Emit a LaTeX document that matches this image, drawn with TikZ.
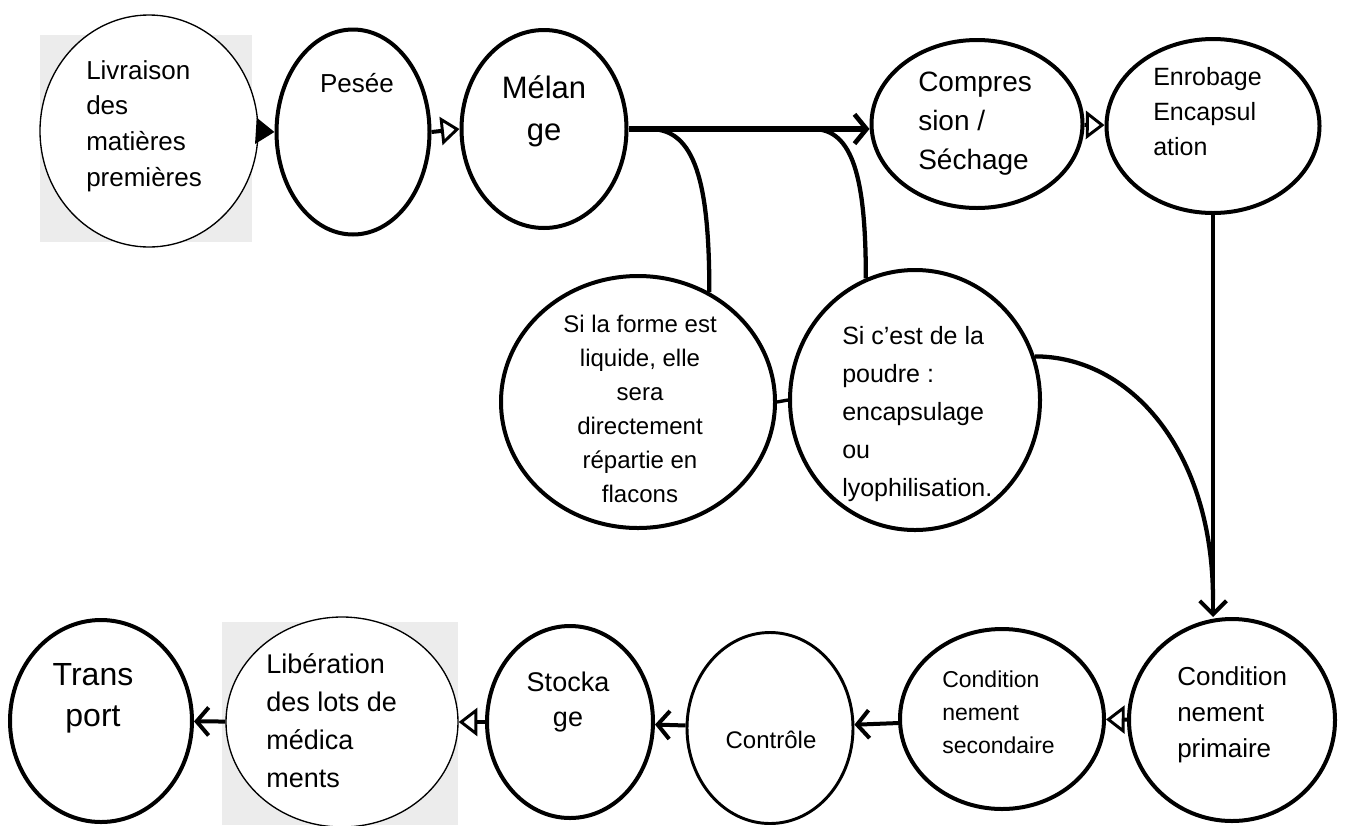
\documentclass[tikz,border=0pt]{standalone}
\usepackage{fontspec}
\setmainfont{Liberation Sans}
\usetikzlibrary{arrows.meta,shapes.geometric}
\definecolor{panel}{RGB}{236,236,236}
\begin{document}
\begin{tikzpicture}[x=0.75pt,y=-0.75pt,
  stage/.style={draw, ellipse, fill=white, line width=3pt, inner sep=0pt},
  thin stage/.style={stage, line width=1pt},
  txt/.style={inner sep=0pt, align=left},
  link/.style={line width=3pt},
  barb/.style={-{Straight Barb[length=9pt,width=21pt]}},
  opentip/.style={-{Triangle[open,length=14pt,width=21pt,line width=2.2pt]}},
]
\useasboundingbox (0,0) rectangle (1348,825);

% light panels behind two of the stages
\fill[panel] (40,35) rectangle (252,242);
\fill[panel] (222,622) rectangle (458,825);

% stages
\node[thin stage, minimum width=163.5pt, minimum height=174pt] (livr) at (149,131) {};
\node[stage, minimum width=114.75pt, minimum height=153.75pt] (pesee) at (353,132) {};
\node[stage, minimum width=123.75pt, minimum height=148.5pt] (melange) at (544,129) {};
\node[stage, minimum width=158.25pt, minimum height=126pt] (compr) at (977,124) {};
\node[stage, minimum width=159.75pt, minimum height=130.5pt] (enrob) at (1213,126) {};
\node[stage, minimum width=205.5pt, minimum height=189pt] (forme) at (638,402) {};
\node[stage, minimum width=187.5pt, minimum height=195pt] (poudre) at (915,400) {};
\node[stage, minimum width=154.5pt, minimum height=151.5pt] (condprim) at (1232,720) {};
\node[stage, minimum width=153pt, minimum height=135pt] (condsec) at (1002,719) {};
\node[stage, line width=2.2pt, minimum width=124.5pt, minimum height=143.25pt] (controle) at (770,728) {};
\node[stage, minimum width=124.5pt, minimum height=144pt] (stock) at (570,722) {};
\node[thin stage, minimum width=174pt, minimum height=157.5pt] (liber) at (342,722) {};
\node[stage, minimum width=136.5pt, minimum height=151.5pt] (transp) at (101,721) {};

% top row flow
\draw[link, -{Triangle[length=14pt,width=19pt]}] (livr.east) -- (pesee.west);
\draw[link, opentip] (pesee.east) -- (melange.west);
\draw[line width=4.5pt, -{Straight Barb[length=9pt,width=22pt,line width=3.5pt]}]
  (melange.east) -- (melange.east -| compr.west);
\draw[link, opentip] (compr) -- (enrob);

% branches towards the liquid / powder cases
\coordinate (b1) at (650,129);
\coordinate (b2) at (813,129);
\draw[line width=3.2pt] (b1) .. controls +(45,0) and +(0,-110) .. (forme.57);
\draw[line width=3.2pt] (b2) .. controls +(40,0) and +(0,-100) .. (poudre.112);
\draw[line width=2.5pt] (forme.east) -- (poudre.west);

% down to primary packaging
\coordinate (merge) at (1213,600);
\draw[line width=3.2pt] (poudre.20) .. controls +(95,0) and +(0,-150) .. (merge);
\draw[link, -{Straight Barb[length=10pt,width=20pt]}] (enrob.south) -- (enrob.south |- condprim.north);

% bottom row flow
\draw[link, opentip] (condprim) -- (condsec);
\draw[link, barb] (condsec) -- (controle);
\draw[link, barb] (controle) -- (stock);
\draw[link, opentip] (stock) -- (liber);
\draw[link, barb] (liber) -- (transp);

% labels
\node[txt, anchor=north west, font=\fontsize{19.5}{26.8}\selectfont] (livr-t) at (86,60) {Livraison\\des\\matières\\premières};
\node[txt, anchor=north, font=\fontsize{19.5}{24}\selectfont] (pesee-t) at (357,73) {Pesée};
\node[txt, anchor=north, align=center, font=\fontsize{23.25}{31.5}\selectfont] (melange-t) at (544,75) {Mélan\\ge};
\node[txt, anchor=north west, font=\fontsize{21}{29.25}\selectfont] (compr-t) at (918,72) {Compres\\sion /\\Séchage};
\node[txt, anchor=north west, font=\fontsize{18.75}{26.25}\selectfont] (enrob-t) at (1153,67) {Enrobage\\Encapsul\\ation};
\node[txt, anchor=north, align=center, font=\fontsize{18}{25.5}\selectfont] (forme-t) at (640,315) {Si la forme est\\liquide, elle\\sera\\directement\\répartie en\\flacons};
\node[txt, anchor=north west, font=\fontsize{18.75}{28.5}\selectfont] (poudre-t) at (842,326) {Si c’est de la\\poudre :\\encapsulage\\ou\\lyophilisation.};
\node[txt, anchor=north west, font=\fontsize{19.5}{27}\selectfont] (condprim-t) at (1177,666) {Condition\\nement\\primaire};
\node[txt, anchor=north west, font=\fontsize{17.25}{24.75}\selectfont] (condsec-t) at (942,671) {Condition\\nement\\secondaire};
\node[txt, anchor=base, font=\fontsize{18}{22}\selectfont] (controle-t) at (771,748) {Contrôle};
\node[txt, anchor=north, align=center, font=\fontsize{20.25}{26.25}\selectfont] (stock-t) at (568,672) {Stocka\\ge};
\node[txt, anchor=north west, font=\fontsize{20.25}{28.5}\selectfont] (liber-t) at (266,653) {Libération\\des lots de\\médica\\ments};
\node[txt, anchor=north, align=center, font=\fontsize{24}{30.75}\selectfont] (transp-t) at (93,663) {Trans\\port};
\end{tikzpicture}
\end{document}
